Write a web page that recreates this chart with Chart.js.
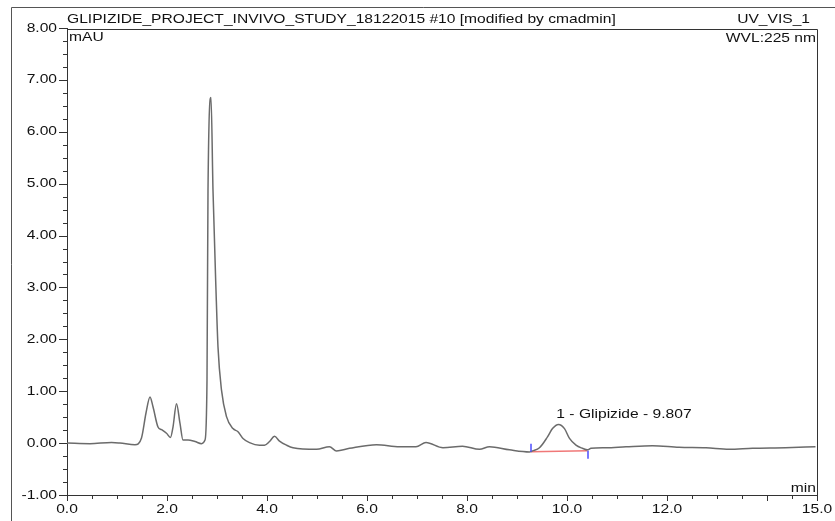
<!DOCTYPE html>
<html>
<head>
<meta charset="utf-8">
<script src="https://cdn.jsdelivr.net/npm/chart.js@4/dist/chart.umd.min.js"></script>
<style>
  html, body { margin: 0; padding: 0; background: #ffffff; }
  #wrap { width: 835px; height: 521px; position: relative; }
</style>
</head>
<body>
<div id="wrap"><canvas id="chromChart"></canvas></div>
<script>
// ===============================
// Data
// ===============================
const retentionTimes = [
  0.00, 0.46, 0.89, 1.06, 1.36, 1.49, 1.58, 1.66, 1.72, 1.82, 1.89, 1.99,
  2.07, 2.12, 2.19, 2.26, 2.32, 2.42, 2.56, 2.69, 2.76, 2.80, 2.82, 2.88,
  2.92, 2.98, 3.02, 3.09, 3.19, 3.32, 3.42, 3.52, 3.65, 3.85, 3.95, 4.05,
  4.15, 4.25, 4.39, 4.52, 4.99, 5.25, 5.39, 5.65, 6.19, 6.65, 6.98, 7.18,
  7.52, 7.91, 8.25, 8.45, 8.85, 9.25, 9.31, 9.45, 9.61, 9.71, 9.83, 9.95,
  10.05, 10.18, 10.31, 10.41, 10.48, 10.78, 11.18, 11.71, 12.24, 12.78,
  13.24, 13.71, 14.37, 14.97,
];
const absorbance = [
  0.00, -0.01, 0.01, 0.00, -0.03, 0.10, 0.58, 0.89, 0.70, 0.31, 0.26, 0.19,
  0.11, 0.31, 0.76, 0.38, 0.06, 0.06, 0.03, -0.01, 0.06, 1.21, 4.87, 6.66,
  4.87, 2.94, 1.85, 1.02, 0.51, 0.28, 0.22, 0.09, 0.01, -0.04, -0.04, 0.03,
  0.13, 0.04, -0.04, -0.09, -0.12, -0.07, -0.15, -0.10, -0.03, -0.07, -0.07, 0.01,
  -0.09, -0.06, -0.12, -0.07, -0.13, -0.17, -0.15, -0.09, 0.12, 0.28, 0.36, 0.28,
  0.09, -0.04, -0.10, -0.13, -0.10, -0.09, -0.07, -0.05, -0.08, -0.09,
  -0.12, -0.10, -0.09, -0.07,
];

// integration baseline of peak 1
const baselineTimes = [9.28, 10.41];
const baselineValues = [-0.165, -0.145];

const peakLabel = "1 - Glipizide - 9.807";
const peakTime = 9.807;
const peakHeight = 0.36;

const xTickLabels = [0, 2, 4, 6, 8, 10, 12, 15];
const yTickLabels = [-1, 0, 1, 2, 3, 4, 5, 6, 7, 8];
const xMinorStep = 0.5;
const yMinorStep = 0.25;

const FONT = "'Liberation Sans', Arial, sans-serif";
const STRETCH = 1.2; // the report font is drawn a bit wide

function wideText(ctx, text, x, y, align) {
  ctx.save();
  ctx.translate(x, y);
  ctx.scale(STRETCH, 1);
  ctx.textAlign = align;
  ctx.fillText(text, 0, 0);
  ctx.restore();
}

// ===============================
// Frame, ticks and texts
// ===============================
const frame = {
  id: "frame",
  afterDraw(chart) {
    const { ctx, chartArea: a, scales } = chart;
    const xs = scales.x;
    const ys = scales.y;
    ctx.save();

    // outer frame
    ctx.strokeStyle = "#555555";
    ctx.lineWidth = 1;
    ctx.beginPath();
    ctx.moveTo(11.5, 521);
    ctx.lineTo(11.5, 7.5);
    ctx.lineTo(835, 7.5);
    ctx.stroke();

    // plot box
    ctx.strokeStyle = "#333333";
    ctx.beginPath();
    ctx.moveTo(a.left + 0.5, a.top + 1.5);
    ctx.lineTo(a.right + 0.5, a.top + 1.5);
    ctx.lineTo(a.right + 0.5, a.bottom);
    ctx.stroke();

    // x ticks
    for (let v = 0; v <= 15.001; v += xMinorStep) {
      const px = Math.round(xs.getPixelForValue(v)) + 0.5;
      const major = Math.abs(v % 2) < 0.001 || Math.abs(v - 15) < 0.001;
      ctx.beginPath();
      ctx.moveTo(px, a.bottom);
      ctx.lineTo(px, a.bottom + (major ? 6 : 4));
      ctx.stroke();
    }

    // y ticks
    for (let v = -1; v <= 8.001; v += yMinorStep) {
      const py = Math.round(ys.getPixelForValue(v)) + 0.5;
      const major = Math.abs(v - Math.round(v)) < 0.001;
      ctx.beginPath();
      ctx.moveTo(a.left, py);
      ctx.lineTo(a.left - (major ? 8 : 4), py);
      ctx.stroke();
    }

    ctx.fillStyle = "#111111";
    ctx.font = "13px " + FONT;
    ctx.textBaseline = "middle";

    // tick labels
    xTickLabels.forEach((v) => {
      wideText(ctx, v.toFixed(1), xs.getPixelForValue(v), a.bottom + 14, "center");
    });
    yTickLabels.forEach((v) => {
      wideText(ctx, v.toFixed(2), a.left - 10, ys.getPixelForValue(v), "right");
    });

    // header texts
    wideText(ctx, "GLIPIZIDE_PROJECT_INVIVO_STUDY_18122015 #10 [modified by cmadmin]", 67, 19, "left");
    wideText(ctx, "mAU", 69, 37, "left");
    wideText(ctx, "UV_VIS_1", 810, 19, "right");
    wideText(ctx, "WVL:225 nm", 816, 38, "right");
    wideText(ctx, "min", 816, 488, "right");

    // peak label
    wideText(ctx, peakLabel, xs.getPixelForValue(peakTime) - 1, ys.getPixelForValue(peakHeight) - 10, "left");

    // integration marks
    ctx.strokeStyle = "#4d4dff";
    ctx.lineWidth = 1.5;
    const sx = Math.round(xs.getPixelForValue(baselineTimes[0]));
    const sy = ys.getPixelForValue(baselineValues[0]);
    ctx.beginPath();
    ctx.moveTo(sx, sy);
    ctx.lineTo(sx, sy - 8);
    ctx.stroke();
    const ex = Math.round(xs.getPixelForValue(baselineTimes[1]));
    const ey = ys.getPixelForValue(baselineValues[1]);
    ctx.beginPath();
    ctx.moveTo(ex, ey);
    ctx.lineTo(ex, ey + 8);
    ctx.stroke();

    ctx.restore();
  },
};

const canvas = document.getElementById("chromChart");

new Chart(canvas, {
  type: "line",

  data: {
    datasets: [
      {
        label: "UV_VIS_1",
        data: retentionTimes.map((t, i) => ({ x: t, y: absorbance[i] })),
        borderColor: "#6b6b6b",
        borderWidth: 1.5,
        pointRadius: 0,
        cubicInterpolationMode: "monotone",
      },
      {
        label: "baseline",
        data: baselineTimes.map((t, i) => ({ x: t, y: baselineValues[i] })),
        borderColor: "#f07878",
        borderWidth: 1.5,
        pointRadius: 0,
      },
    ],
  },

  options: {
    responsive: true,
    maintainAspectRatio: false,
    animation: false,

    layout: {
      padding: { left: 0, right: 18, top: 28, bottom: 0 },
    },

    plugins: {
      legend: { display: false },
      tooltip: { enabled: false },
    },

    scales: {
      x: {
        type: "linear",
        min: 0,
        max: 15,
        afterFit: (scale) => {
          scale.height = 26;
        },
        grid: { display: false, drawTicks: false },
        border: { display: true, color: "#333333", width: 1 },
        ticks: { display: false },
      },

      y: {
        type: "linear",
        min: -1,
        max: 8,
        afterFit: (scale) => {
          scale.width = 67;
        },
        grid: { display: false, drawTicks: false },
        border: { display: true, color: "#333333", width: 1 },
        ticks: { display: false },
      },
    },
  },

  plugins: [frame],
});
</script>
</body>
</html>
